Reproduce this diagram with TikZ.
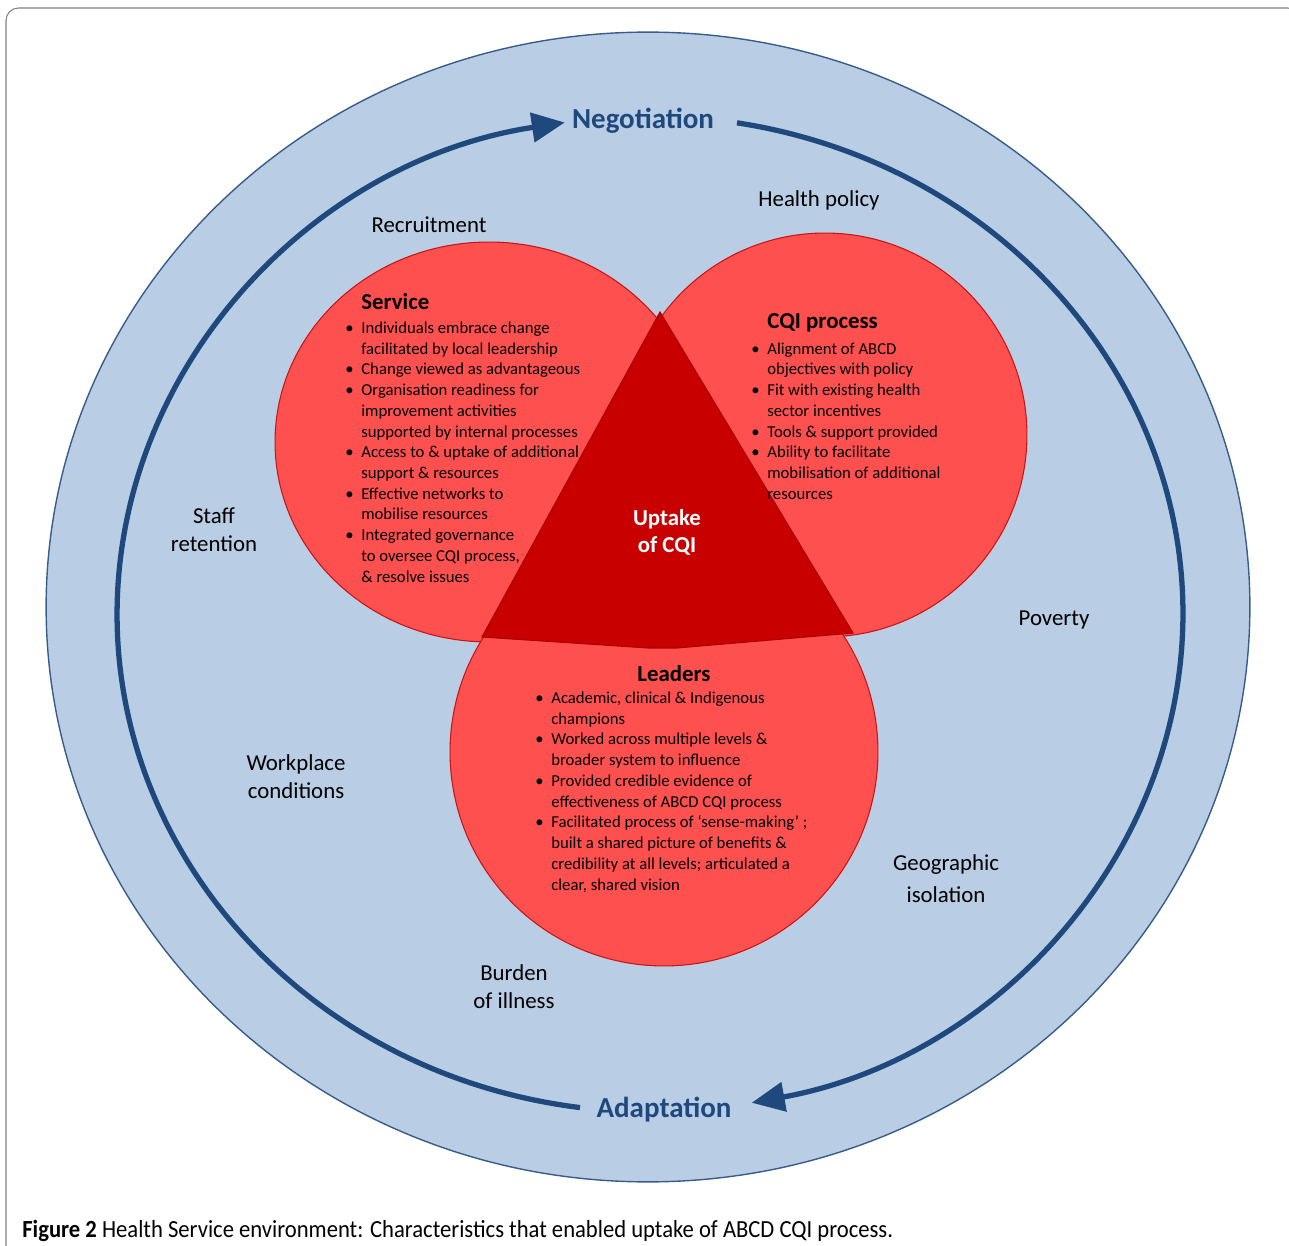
\documentclass[tikz,border=0pt]{standalone}
\usepackage{fontspec}
\setmainfont{Carlito}
\usepackage{graphicx}
\usetikzlibrary{arrows.meta}
\definecolor{bluefill}{RGB}{185,205,229}
\definecolor{blueedge}{RGB}{56,93,138}
\definecolor{ringblue}{RGB}{31,73,125}
\definecolor{redfill}{RGB}{255,80,80}
\definecolor{rededge}{RGB}{200,20,20}
\definecolor{darkred}{RGB}{200,0,0}
\newcommand{\blt}{\llap{\textbullet\hspace{4.4pt}}}

\begin{document}
\begin{tikzpicture}[x=0.02cm,y=-0.02cm,
  ringarrow/.style={ringblue,line width=3pt,-{Triangle[length=0.66cm,width=0.58cm]}},
  redcircle/.style={draw=rededge,line width=0.6pt,fill=redfill},
  outerlabel/.style={align=center,font=\fontsize{13}{15.9}\selectfont},
  cyclelabel/.style={text=ringblue,font=\fontsize{16.5}{20}\selectfont\bfseries},
  circlehead/.style={inner sep=0pt,font=\fontsize{13}{15}\selectfont\bfseries},
  bulletlist/.style={align=left,anchor=west,inner sep=0pt,font=\fontsize{9.5}{11.8}\selectfont}]
\useasboundingbox (0,0) rectangle (1289,1246);
\clip (0,0) rectangle (1289,1246);
\draw[gray,line width=0.6pt,rounded corners=0.25cm] (6,8) rectangle (1300,1270);
\draw[blueedge,line width=0.8pt,fill=bluefill] (648,607) ellipse [x radius=12.04cm,y radius=11.5cm];
\coordinate (ringc) at (650,614);
\draw[ringarrow] (ringc) ++(262.45:10.66cm and 9.96cm) arc[start angle=262.45,end angle=99.2,x radius=10.66cm,y radius=9.96cm];
\draw[ringarrow] (ringc) ++(80.6:10.66cm and 9.96cm) arc[start angle=80.6,end angle=-79,x radius=10.66cm,y radius=9.96cm];
\draw[redcircle] (489,442) ellipse [x radius=4.28cm,y radius=4cm];
\draw[redcircle] (825,435) circle [radius=4.04cm];
\draw[redcircle] (664,752) circle [radius=4.28cm];
\draw[fill=darkred,draw=darkred!85!black,line width=0.6pt] (660,312) -- (853,633) -- (677,648) -- (648,648) -- (482,637) -- cycle;
\node[cyclelabel] (negotiation) at (643,121) {Negotiation};
\node[cyclelabel] (adaptation) at (664,1110) {Adaptation};
\node[outerlabel] (healthpolicy) at (819,200) {Health policy};
\node[outerlabel] (recruitment) at (429,225) {Recruitment};
\node[outerlabel] (staff) at (214,530) {Staff\\retention};
\node[outerlabel] (poverty) at (1054,620) {Poverty};
\node[outerlabel] (workplace) at (296,777) {Workplace\\conditions};
\node[outerlabel,font=\fontsize{13}{18.2}\selectfont] (geographic) at (946,879) {Geographic\\isolation};
\node[outerlabel] (burden) at (514,987) {Burden\\of illness};
\node[outerlabel,text=white,font=\fontsize{13}{15.4}\selectfont\bfseries] (uptake) at (667,532) {Uptake\\of CQI};
\node[circlehead,anchor=west] (service) at (361,302) {Service};
\node[bulletlist] (servicelist) at (361,452) {\blt Individuals embrace change\\
facilitated by local leadership\\
\blt Change viewed as advantageous\\
\blt Organisation readiness for\\
improvement activities\\
supported by internal processes\\
\blt Access to \& uptake of additional\\
support \& resources\\
\blt Effective networks to\\
mobilise resources\\
\blt Integrated governance\\
to oversee CQI process,\\
\& resolve issues};
\node[circlehead,anchor=west] (cqi) at (767,323) {CQI process};
\node[bulletlist] (cqilist) at (767,421) {\blt Alignment of ABCD\\
objectives with policy\\
\blt Fit with existing health\\
sector incentives\\
\blt Tools \& support provided\\
\blt Ability to facilitate\\
mobilisation of additional\\
resources};
\node[circlehead] (leaders) at (674,674) {Leaders};
\node[bulletlist] (leaderslist) at (551,792) {\blt Academic, clinical \& Indigenous\\
champions\\
\blt Worked across multiple levels \&\\
broader system to influence\\
\blt Provided credible evidence of\\
effectiveness of ABCD CQI process\\
\blt Facilitated process of `sense-making' ;\\
built a shared picture of benefits \&\\
credibility at all levels; articulated a\\
clear, shared vision};
\node[anchor=west,inner sep=0pt] (caption) at (22,1231) {\scalebox{0.92}[1]{\fontsize{14}{16}\selectfont\textbf{Figure 2} Health Service environment: Characteristics that enabled uptake of ABCD CQI process.}};
\end{tikzpicture}
\end{document}
